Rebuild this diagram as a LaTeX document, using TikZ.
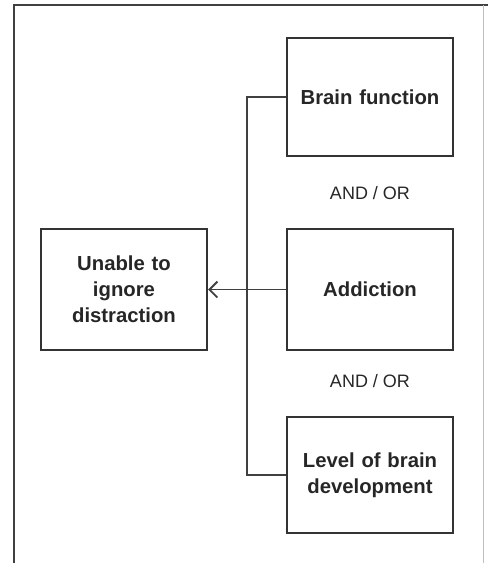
\documentclass[tikz,border=0pt]{standalone}
\usepackage{fontspec}
\setmainfont{Liberation Sans}
\usetikzlibrary{arrows.meta}
\begin{document}
\begin{tikzpicture}[x=1pt,y=-1pt,
  box/.style={draw=black!80, line width=2.4pt, minimum width=166pt, inner sep=0pt,
    text width=160pt, align=center, font=\fontsize{20.3}{26}\selectfont\bfseries, text=black!85},
  lbl/.style={font=\fontsize{18}{22}\selectfont, text=black!85},
  conn/.style={draw=black!75, line width=1.8pt}]
\useasboundingbox (0,0) rectangle (488,563);
\draw[black!75, line width=2.4pt] (488,5) -- (14,5) -- (14,563);
\draw[black!25, line width=1pt] (483,5) -- (483,563);
\node[box, minimum height=121pt] (unable) at (124,289.5) {Unable to\\ignore\\distraction};
\node[box, minimum height=118pt] (brain) at (370,97) {Brain function};
\node[box, minimum height=121pt] (addiction) at (370,289.5) {Addiction};
\node[box, minimum height=116pt] (level) at (370,475) {Level of brain\\development};
\node[lbl] (and1) at (370,193) {AND / OR};
\node[lbl] (and2) at (370,381) {AND / OR};
\coordinate (j) at (247,289.5);
\draw[conn] (brain.west) -| (j) |- (level.west);
\draw[conn, -{Straight Barb[length=8pt,width=16pt,line width=1.8pt]}] (addiction.west) -- (unable.east);
\end{tikzpicture}
\end{document}
